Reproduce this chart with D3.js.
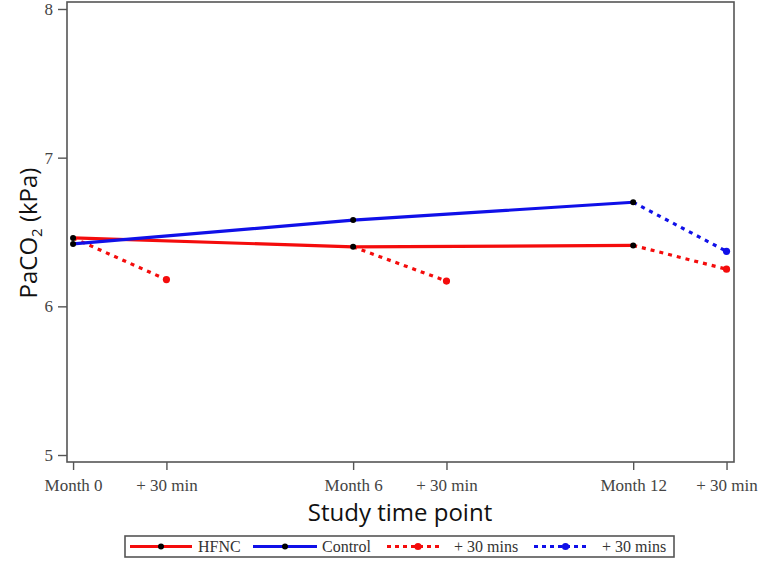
<!DOCTYPE html>
<html>
<head>
<meta charset="utf-8">
<script src="https://cdn.jsdelivr.net/npm/d3@7"></script>
<style>
  body { margin: 0; background: #fff; }
  .tick-label { font-family: 'Liberation Serif', 'DejaVu Serif', serif; font-size: 17px; fill: #444; }
  .axis-title { font-family: 'Open Sans', 'Noto Sans', sans-serif; font-size: 24px; fill: #111; }
  .legend-text { font-family: 'Liberation Serif', serif; font-size: 16px; fill: #333; }
</style>
</head>
<body>
<svg id="chart" width="765" height="566"></svg>
<script>
// time points: position on the x axis and the tick label
const tickPos = [0, 1, 3, 4, 6, 7];
const tickLabels = ['Month 0', '+ 30 min', 'Month 6', '+ 30 min', 'Month 12', '+ 30 min'];
const yTicks = [5, 6, 7, 8];

// visit positions and PaCO2 values (kPa)
const visitPos = [0, 3, 6];
const hfnc = [6.46, 6.40, 6.41];
const control = [6.42, 6.58, 6.70];
// +30 min values (null = not shown)
const hfnc30 = [6.18, 6.17, 6.25];
const control30 = [null, null, 6.37];

const RED = '#f40c0c';
const BLUE = '#1010e8';
const FRAME = '#555';

const margin = { top: 2, left: 67 };
const width = 667;
const height = 460;

const svg = d3.select('#chart');
const g = svg.append('g').attr('transform', `translate(${margin.left},${margin.top})`);

const x = d3.scaleLinear().domain([-0.065, 7.08]).range([0, width]);
const y = d3.scaleLinear().domain([4.953, 8.047]).range([height, 0]);

// frame
g.append('rect')
  .attr('width', width)
  .attr('height', height)
  .attr('fill', 'none')
  .attr('stroke', FRAME)
  .attr('stroke-width', 1.6);

// y axis
const yAxis = g.append('g')
  .call(d3.axisLeft(y).tickValues(yTicks).tickSize(9).tickPadding(5).tickFormat(d3.format('d')));
yAxis.select('.domain').remove();
yAxis.selectAll('line').attr('stroke', FRAME).attr('stroke-width', 1.4);
yAxis.selectAll('text').attr('class', 'tick-label');
yAxis.attr('font-size', null).attr('font-family', null);

// x axis
const xAxis = g.append('g')
  .attr('transform', `translate(0,${height})`)
  .call(d3.axisBottom(x).tickValues(tickPos).tickSize(8).tickPadding(9)
    .tickFormat((d, i) => tickLabels[i]));
xAxis.select('.domain').remove();
xAxis.selectAll('line').attr('stroke', FRAME).attr('stroke-width', 1.4);
xAxis.selectAll('text').attr('class', 'tick-label');
xAxis.attr('font-size', null).attr('font-family', null);

// axis titles
svg.append('text')
  .attr('class', 'axis-title')
  .attr('text-anchor', 'middle')
  .attr('x', 400)
  .attr('y', 521)
  .text('Study time point');

const yt = svg.append('text')
  .attr('class', 'axis-title')
  .attr('text-anchor', 'middle')
  .attr('transform', 'translate(37,233) rotate(-90)');
yt.append('tspan').text('PaCO');
yt.append('tspan').attr('font-size', 15).attr('dy', 5).text('2');
yt.append('tspan').attr('dy', -5).text(' (kPa)');

// data points
const hfncPts = visitPos.map((p, i) => ({ p, v: hfnc[i] }));
const ctrlPts = visitPos.map((p, i) => ({ p, v: control[i] }));

const line = d3.line().x(d => x(d.p)).y(d => y(d.v));

// +30 min dotted segments
function dotted(base, after, color) {
  const segs = visitPos
    .map((p, i) => after[i] == null ? null : [{ p, v: base[i] }, { p: p + 1, v: after[i] }])
    .filter(s => s);
  g.append('g').selectAll('path')
    .data(segs)
    .join('path')
    .attr('d', line)
    .attr('fill', 'none')
    .attr('stroke', color)
    .attr('stroke-width', 3.2)
    .attr('stroke-dasharray', '4 5');
  g.append('g').selectAll('circle')
    .data(segs)
    .join('circle')
    .attr('cx', d => x(d[1].p))
    .attr('cy', d => y(d[1].v))
    .attr('r', 3.6)
    .attr('fill', color);
}
dotted(hfnc, hfnc30, RED);
dotted(control, control30, BLUE);

g.append('path').datum(hfncPts).attr('d', line)
  .attr('fill', 'none').attr('stroke', RED).attr('stroke-width', 3.2);
g.append('path').datum(ctrlPts).attr('d', line)
  .attr('fill', 'none').attr('stroke', BLUE).attr('stroke-width', 3.2);

g.append('g').selectAll('circle')
  .data(hfncPts.concat(ctrlPts))
  .join('circle')
  .attr('cx', d => x(d.p))
  .attr('cy', d => y(d.v))
  .attr('r', 3)
  .attr('fill', '#000');

// legend
const legendItems = [
  { label: 'HFNC', color: RED, dash: null, x0: 130, x1: 192, dotR: 3, dotColor: '#000', tx: 198 },
  { label: 'Control', color: BLUE, dash: null, x0: 253, x1: 317, dotR: 3, dotColor: '#000', tx: 322 },
  { label: '+ 30 mins', color: RED, dash: '4 4', x0: 387, x1: 441, dotR: 3.6, dotColor: RED, tx: 454 },
  { label: '+ 30 mins', color: BLUE, dash: '4 4', x0: 534, x1: 589, dotR: 3.6, dotColor: BLUE, tx: 602 }
];
const legY = 546.5;
svg.append('rect')
  .attr('x', 125).attr('y', 536)
  .attr('width', 549).attr('height', 21)
  .attr('fill', '#fff')
  .attr('stroke', FRAME)
  .attr('stroke-width', 1.6);
const li = svg.append('g').selectAll('g').data(legendItems).join('g');
li.append('line')
  .attr('x1', d => d.x0).attr('x2', d => d.x1)
  .attr('y1', legY).attr('y2', legY)
  .attr('stroke', d => d.color)
  .attr('stroke-width', 3.2)
  .attr('stroke-dasharray', d => d.dash);
li.append('circle')
  .attr('cx', d => (d.x0 + d.x1) / 2 + (d.dash ? 4 : 0))
  .attr('cy', legY)
  .attr('r', d => d.dotR)
  .attr('fill', d => d.dotColor);
li.append('text')
  .attr('class', 'legend-text')
  .attr('x', d => d.tx)
  .attr('y', legY + 5.5)
  .text(d => d.label);
</script>
</body>
</html>
